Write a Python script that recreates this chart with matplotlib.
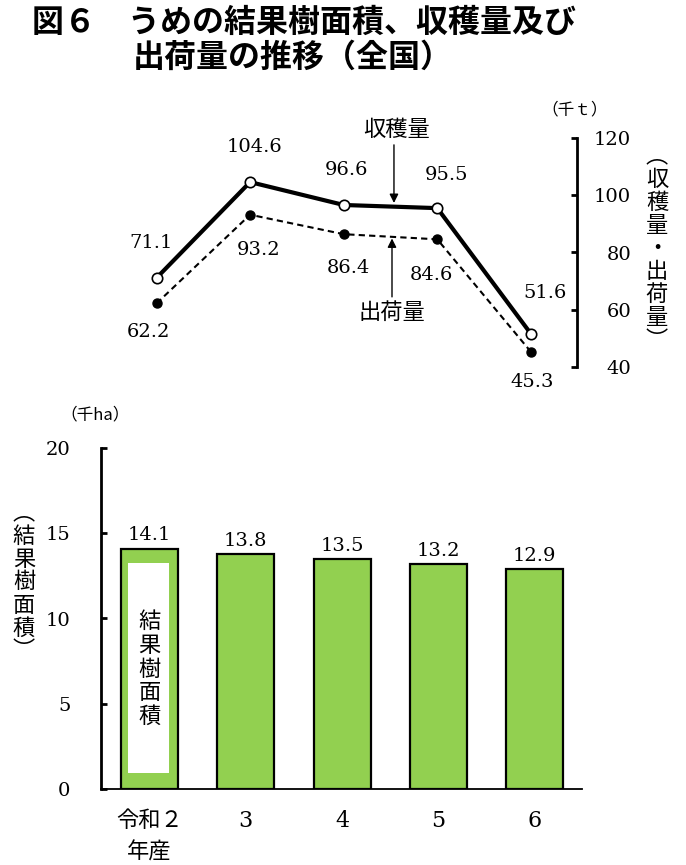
import numpy as np
import matplotlib
matplotlib.use("Agg")
import matplotlib.pyplot as plt
from matplotlib.patches import Rectangle

plt.rcParams['font.family'] = ['DejaVu Serif', 'Noto Sans CJK JP']

# データ
years = ["令和２\n年産", "3", "4", "5", "6"]
harvest = [71.1, 104.6, 96.6, 95.5, 51.6]      # 収穫量（千t）
shipment = [62.2, 93.2, 86.4, 84.6, 45.3]     # 出荷量（千t）
area = [14.1, 13.8, 13.5, 13.2, 12.9]         # 結果樹面積（千ha）

W, H = 686, 865
GREEN = "#92D050"
CJK = ['Noto Sans CJK JP', 'DejaVu Sans']
NUM = 14


def fx(x):
    return x / W


def fy(y):
    return 1 - y / H


def vertical(s):
    return "\n".join(s)


fig = plt.figure(figsize=(W / 100, H / 100), dpi=100)

# タイトル
fig.text(fx(32), fy(23), "図６　うめの結果樹面積、収穫量及び", fontsize=23,
         weight='bold', family=CJK, ha='left', va='center')
fig.text(fx(133), fy(58), "出荷量の推移（全国）", fontsize=23,
         weight='bold', family=CJK, ha='left', va='center')

# ---- 上段：収穫量・出荷量 ----
ax1 = fig.add_axes([fx(101), fy(367), fx(577) - fx(101), fy(138) - fy(367)])
ax1.patch.set_alpha(0)
x = np.arange(len(years))
ax1.set_xlim((101 - 156.5) / 93.6, (577 - 156.5) / 93.6)
ax1.set_ylim(40, 120)
ax1.plot(x, harvest, color='black', lw=3.0, marker='o', markersize=7.5,
         markerfacecolor='white', markeredgecolor='black', markeredgewidth=1.2,
         zorder=3, clip_on=False)
ax1.plot(x, shipment, color='black', lw=1.5, ls=(0, (3, 2)), marker='o',
         markersize=6.5, markerfacecolor='black', zorder=2, clip_on=False)

harvest_off = [(-5, 35), (4, 35), (3, 35), (9, 33), (14, 41)]
ship_off = [(-8, -29), (8, -35), (5, -34), (-6, -36), (1, -30)]
for i, v in enumerate(harvest):
    dx, dy = harvest_off[i]
    ax1.annotate(f"{v:.1f}", (x[i], v), xytext=(dx * 0.72, dy * 0.72),
                 textcoords='offset points', ha='center', va='center',
                 fontsize=NUM, annotation_clip=False)
for i, v in enumerate(shipment):
    dx, dy = ship_off[i]
    ax1.annotate(f"{v:.1f}", (x[i], v), xytext=(dx * 0.72, dy * 0.72),
                 textcoords='offset points', ha='center', va='center',
                 fontsize=NUM, annotation_clip=False)

arrow = dict(arrowstyle='-|>', color='black', lw=1.0, mutation_scale=13,
             shrinkA=0, shrinkB=0)
ax1.annotate("", xy=(2.537, 97.3), xytext=(2.537, 117.6), arrowprops=arrow,
             annotation_clip=False)
ax1.text(2.569, 122.8, "収穫量", fontsize=16, family=CJK, ha='center',
         va='center', clip_on=False)
ax1.annotate("", xy=(2.516, 84.9), xytext=(2.516, 64.5), arrowprops=arrow,
             annotation_clip=False)
ax1.text(2.516, 59.2, "出荷量", fontsize=16, family=CJK, ha='center',
         va='center', clip_on=False)

for side in ['top', 'left', 'bottom']:
    ax1.spines[side].set_visible(False)
ax1.spines['right'].set_linewidth(2.0)
ax1.set_xticks([])
ax1.yaxis.tick_right()
ax1.set_yticks([40, 60, 80, 100, 120])
ax1.tick_params(axis='y', direction='in', length=4.5, width=2.0, pad=39,
                labelsize=NUM)
for lab in ax1.get_yticklabels():
    lab.set_horizontalalignment('right')

fig.text(fx(575), fy(110), "（千ｔ）", fontsize=12, family=CJK,
         ha='center', va='center')
fig.text(fx(657), fy(248), vertical("︵収穫量・出荷量︶"), fontsize=16,
         family=CJK, ha='center', va='center', linespacing=1.0)

# ---- 下段：結果樹面積 ----
ax2 = fig.add_axes([fx(101), fy(789), fx(582) - fx(101), fy(448) - fy(789)])
ax2.set_xlim((101 - 149.5) / 96.25, (582 - 149.5) / 96.25)
ax2.set_ylim(0, 20)
bars = ax2.bar(x, area, width=57 / 96.25, color=GREEN, edgecolor='black',
               linewidth=1.6, zorder=2)
ax2.bar_label(bars, labels=[f"{v:.1f}" for v in area], padding=3,
              fontsize=NUM)

ax2.add_patch(Rectangle((-0.2265, 0.94), 0.429, 12.33, facecolor='white',
                        edgecolor='none', zorder=3))
ax2.text(0.0, (789 - 669) / 17.05, vertical("結果樹面積"), fontsize=16,
         family=CJK, ha='center', va='center', linespacing=1.05, zorder=4)

for side in ['top', 'right']:
    ax2.spines[side].set_visible(False)
ax2.spines['left'].set_linewidth(2.0)
ax2.spines['bottom'].set_linewidth(1.3)
ax2.set_yticks([0, 5, 10, 15, 20])
ax2.tick_params(axis='y', direction='in', length=4.5, width=2.0, pad=22,
                labelsize=NUM)
ax2.set_xticks(x, years)
ax2.tick_params(axis='x', length=0, pad=15, labelsize=16)
for lab in ax2.get_xticklabels():
    lab.set_linespacing(1.55)

fig.text(fx(95), fy(415), "（千ha）", fontsize=12, family=CJK,
         ha='center', va='center')
fig.text(fx(24), fy(582), vertical("︵結果樹面積︶"), fontsize=16,
         family=CJK, ha='center', va='center', linespacing=1.0)

fig.savefig("out.png", dpi=100)
